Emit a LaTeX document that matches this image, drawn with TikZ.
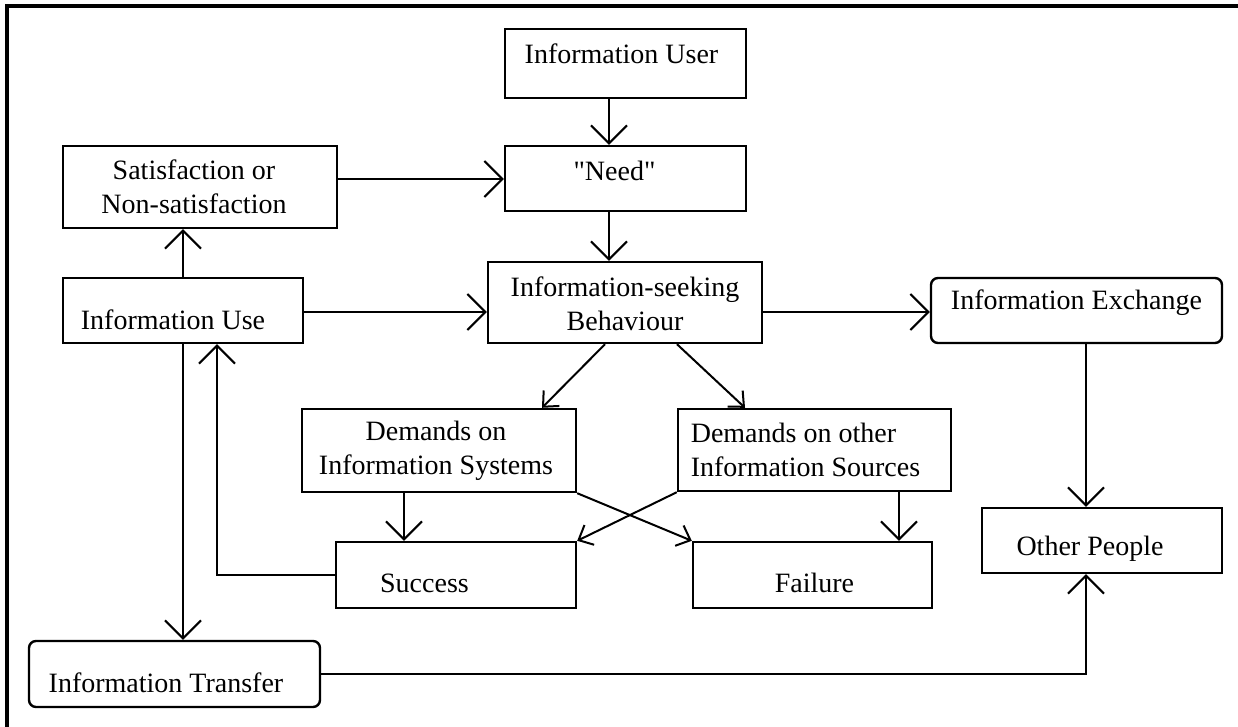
\documentclass[tikz,border=0pt]{standalone}
\usepackage{fontspec}
\setmainfont{Liberation Serif}
\usetikzlibrary{arrows.meta}
\tikzstyle{box} = [draw, line width=1.2pt, inner sep=0pt]
\tikzstyle{rbox} = [box, rounded corners=3.5pt]
\tikzstyle{lbl} = [font=\fontsize{14}{17}\selectfont, align=center, inner sep=0pt]
\tikzstyle{flow} = [line width=1pt, -{Straight Barb[length=9pt,width=18pt]}]
\tikzstyle{flowsmall} = [line width=1pt, -{Straight Barb[length=6pt,width=11pt]}]

\begin{document}
\begin{tikzpicture}[x=0.5pt, y=-0.5pt]
			\useasboundingbox (0,0) rectangle (1238,727);
			\draw [line width=2pt] (7,727) -- (7,6) -- (1238,6);
			
			% boxes
			\node [box, minimum width=120.5pt, minimum height=34.5pt] (User)  at (625.5,63.5) {};
			\node [box, minimum width=120.5pt, minimum height=32.5pt] (Need)  at (625.5,178.5) {};
			\node [box, minimum width=137pt,   minimum height=41pt]   (Sat)   at (200,187) {};
			\node [box, minimum width=120pt,   minimum height=32.5pt] (Use)   at (183,310.5) {};
			\node [box, minimum width=137pt,   minimum height=40.5pt] (Seek)  at (625,302.5) {};
			\node [rbox, minimum width=145.5pt, minimum height=32.5pt] (Exch) at (1076.5,310.5) {};
			\node [box, minimum width=137pt,   minimum height=41.5pt] (DSys)  at (439,450.5) {};
			\node [box, minimum width=136.5pt, minimum height=41pt]   (DSrc)  at (814.5,450) {};
			\node [box, minimum width=120pt,   minimum height=33pt]   (Succ)  at (456,575) {};
			\node [box, minimum width=119.5pt, minimum height=33pt]   (Fail)  at (812.5,575) {};
			\node [box, minimum width=120pt,   minimum height=32.5pt] (Other) at (1102,540.5) {};
			\node [rbox, minimum width=145.5pt, minimum height=33pt]  (Trans) at (174.5,674) {};
			
			% texts
			\node [lbl] (tUser)  at ([xshift=-2pt,yshift=5pt]User.center) {Information User};
			\node [lbl] (tNeed)  at ([xshift=-5.5pt,yshift=4pt]Need.center) {\textquotedbl Need\textquotedbl};
			\node [lbl] (tSat)   at ([xshift=-3pt]Sat.center) {Satisfaction or\\Non-satisfaction};
			\node [lbl] (tUse)   at ([xshift=-5pt,yshift=-4.5pt]Use.center) {Information Use};
			\node [lbl] (tSeek)  at ([yshift=-0.5pt]Seek.center) {Information-seeking\\Behaviour};
			\node [lbl] (tExch)  at ([yshift=3.75pt]Exch.center) {Information Exchange};
			\node [lbl] (tDSys)  at ([xshift=-1.5pt]DSys.center) {Demands on\\Information Systems};
			\node [lbl, align=left] (tDSrc) at ([xshift=-4.5pt]DSrc.center) {Demands on other\\Information Sources};
			\node [lbl] (tSucc)  at ([xshift=-15.75pt,yshift=-4pt]Succ.center) {Success};
			\node [lbl] (tFail)  at ([xshift=1pt,yshift=-4pt]Fail.center) {Failure};
			\node [lbl] (tOther) at ([xshift=-6pt,yshift=-4.25pt]Other.center) {Other People};
			\node [lbl] (tTrans) at ([xshift=-4.25pt,yshift=-4.5pt]Trans.center) {Information Transfer};
			
			% connectors
			\draw [flow] (609,0 |- User.south) -- (609,0 |- Need.north);
			\draw [flow] (609,0 |- Need.south) -- (609,0 |- Seek.north);
			\draw [flow] (Sat.east |- 0,179) -- (Need.west |- 0,179);
			\draw [flow] (183,0 |- Use.north) -- (183,0 |- Sat.south);
			\draw [flow] (Use.east |- 0,312) -- (Seek.west |- 0,312);
			\draw [flow] (Seek.east |- 0,312) -- (Exch.west |- 0,312);
			\draw [flowsmall] (605,0 |- Seek.south) -- (542,0 |- DSys.north);
			\draw [flowsmall] (677,0 |- Seek.south) -- (745,0 |- DSrc.north);
			\draw [flow] (404,0 |- DSys.south) -- (404,0 |- Succ.north);
			\draw [flow] (899,0 |- DSrc.south) -- (899,0 |- Fail.north);
			\draw [flowsmall] (DSys.south east) -- (Fail.north west);
			\draw [flowsmall] (DSrc.south west) -- (Succ.north east);
			\draw [flow] (Succ.west) -| (217,0 |- Use.south);
			\draw [flow] (183,0 |- Use.south) -- (183,0 |- Trans.north);
			\draw [flow] (1086,0 |- Exch.south) -- (1086,0 |- Other.north);
			\draw [flow] (Trans.east) -| (1086,0 |- Other.south);
			
\end{tikzpicture}
\end{document}
